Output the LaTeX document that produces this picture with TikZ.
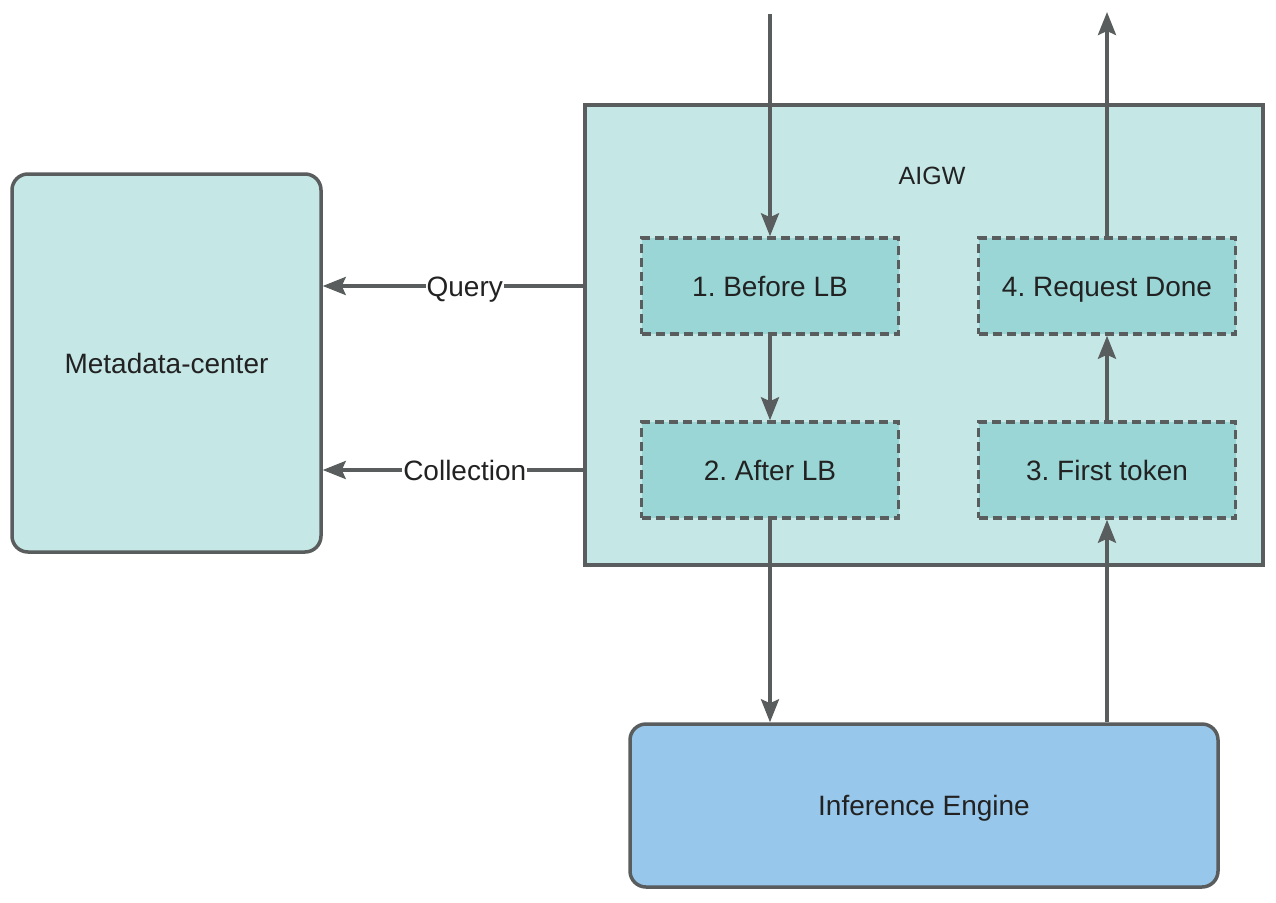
\documentclass[tikz,border=0pt]{standalone}
\usepackage{fontspec}
\setmainfont{Liberation Sans}
\usetikzlibrary{arrows.meta,positioning}

\definecolor{edge}{HTML}{5A5D5D}
\definecolor{gwfill}{HTML}{C5E7E6}
\definecolor{stagefill}{HTML}{9AD6D6}
\definecolor{enginefill}{HTML}{97C7EA}
\definecolor{ink}{HTML}{222222}

\tikzset{
  box/.style={draw=edge,line width=3.5pt,text=ink,text height=26pt,text depth=6pt,font=\fontsize{28}{34}\selectfont},
  roundbox/.style={box,rounded corners=16pt},
  stagebox/.style={box,fill=stagefill,dash pattern=on 9pt off 5pt,minimum width=257pt,minimum height=96pt},
  flow/.style={draw=edge,line width=3.5pt,-{Stealth[length=23pt,width=18pt,inset=4pt]}},
  lbl/.style={fill=white,text=ink,inner sep=1pt,text height=26pt,text depth=6pt,font=\fontsize{28}{34}\selectfont}
}

\begin{document}
\frenchspacing
\begin{tikzpicture}[x=1pt,y=-1pt]

\useasboundingbox (0,0) rectangle (1276,902);

\node[roundbox,fill=gwfill,minimum width=309pt,minimum height=378pt] (meta) at (166.5,363){Metadata-center};
\node[box,fill=gwfill,minimum width=678pt,minimum height=460pt] (aigw) at (924,335){};
\node[text=ink,font=\fontsize{25}{30}\selectfont] (aigwlabel) at (932,176){AIGW};
\node[stagebox] (s1) at (770,286){1. Before LB};
\node[stagebox] (s2) at (770,470){2. After LB};
\node[stagebox] (s3) at (1107,470){3. First token};
\node[stagebox] (s4) at (1107,286){4. Request Done};
\node[roundbox,fill=enginefill,minimum width=588pt,minimum height=163pt] (engine) at (924,805.5){Inference Engine};
\coordinate (in) at (770,14);
\coordinate (out) at (1107,12);

\draw[flow] (in) -- (s1);
\draw[flow] (s1) -- (s2);
\draw[flow] (s2) -- (s2 |- engine.north);
\draw[flow] (s3 |- engine.north) -- (s3);
\draw[flow] (s3) -- (s4);
\draw[flow] (s4) -- (out);

\draw[flow] (aigw.west |- s1) -- node[lbl,pos=0.455]{Query} (meta.east |- s1);
\draw[flow] (aigw.west |- s2) -- node[lbl,pos=0.455]{Collection} (meta.east |- s2);

\end{tikzpicture}
\end{document}
